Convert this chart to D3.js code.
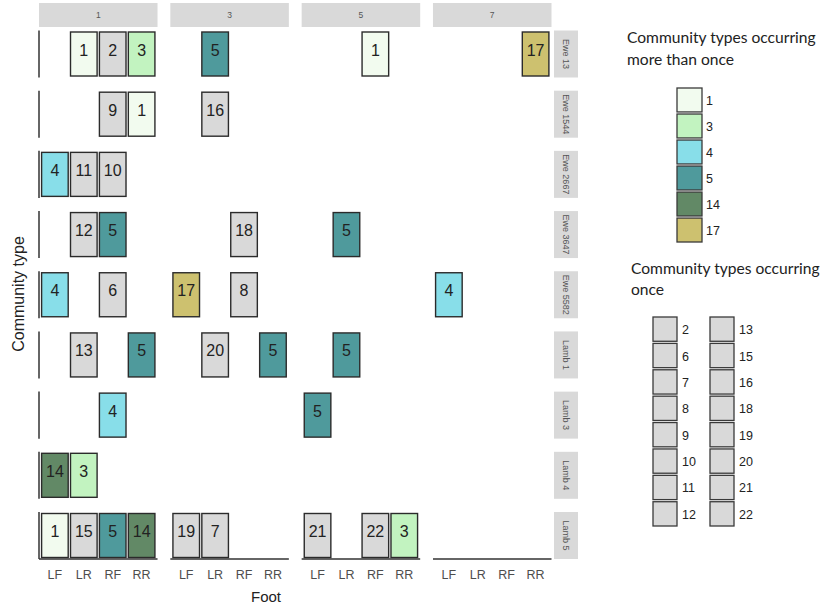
<!DOCTYPE html>
<html>
<head>
<meta charset="utf-8">
<script src="https://cdn.jsdelivr.net/npm/d3@7"></script>
<style>
  body { margin: 0; background: #fff; }
  svg { display: block; }
</style>
</head>
<body>
<div id="chart"></div>
<script>
// Facet columns (top strips), facet rows (right strips), feet on x
const columns = ['1', '3', '5', '7'];
const animals = ['Ewe 13', 'Ewe 1544', 'Ewe 2667', 'Ewe 3647', 'Ewe 5582',
                 'Lamb 1', 'Lamb 3', 'Lamb 4', 'Lamb 5'];
const feet = ['LF', 'LR', 'RF', 'RR'];

// Community types occurring more than once, with their fills
const multiTypes = ['1', '3', '4', '5', '14', '17'];
const multiColors = ['#f2fbef', '#c2f3c0', '#88dee9', '#4f9a9c', '#628966', '#cdc16f'];

// Community types occurring once (all grey)
const onceTypes = ['2', '6', '7', '8', '9', '10', '11', '12',
                   '13', '15', '16', '18', '19', '20', '21', '22'];
const onceColor = '#d9d9d9';

// Observations: [animal, column, foot, community type]
const tiles = [
  ['Ewe 13', '1', 'LR', '1'], ['Ewe 13', '1', 'RF', '2'], ['Ewe 13', '1', 'RR', '3'],
  ['Ewe 13', '3', 'LR', '5'], ['Ewe 13', '5', 'RF', '1'], ['Ewe 13', '7', 'RR', '17'],
  ['Ewe 1544', '1', 'RF', '9'], ['Ewe 1544', '1', 'RR', '1'], ['Ewe 1544', '3', 'LR', '16'],
  ['Ewe 2667', '1', 'LF', '4'], ['Ewe 2667', '1', 'LR', '11'], ['Ewe 2667', '1', 'RF', '10'],
  ['Ewe 3647', '1', 'LR', '12'], ['Ewe 3647', '1', 'RF', '5'], ['Ewe 3647', '3', 'RF', '18'],
  ['Ewe 3647', '5', 'LR', '5'],
  ['Ewe 5582', '1', 'LF', '4'], ['Ewe 5582', '1', 'RF', '6'], ['Ewe 5582', '3', 'LF', '17'],
  ['Ewe 5582', '3', 'RF', '8'], ['Ewe 5582', '7', 'LF', '4'],
  ['Lamb 1', '1', 'LR', '13'], ['Lamb 1', '1', 'RR', '5'], ['Lamb 1', '3', 'LR', '20'],
  ['Lamb 1', '3', 'RR', '5'], ['Lamb 1', '5', 'LR', '5'],
  ['Lamb 3', '1', 'RF', '4'], ['Lamb 3', '5', 'LF', '5'],
  ['Lamb 4', '1', 'LF', '14'], ['Lamb 4', '1', 'LR', '3'],
  ['Lamb 5', '1', 'LF', '1'], ['Lamb 5', '1', 'LR', '15'], ['Lamb 5', '1', 'RF', '5'],
  ['Lamb 5', '1', 'RR', '14'], ['Lamb 5', '3', 'LF', '19'], ['Lamb 5', '3', 'LR', '7'],
  ['Lamb 5', '5', 'LF', '21'], ['Lamb 5', '5', 'RF', '22'], ['Lamb 5', '5', 'RR', '3']
];

const width = 829, height = 616;
const svg = d3.select('#chart').append('svg')
  .attr('width', width)
  .attr('height', height);

const bodyFont = '"Liberation Sans", Arial, sans-serif';
const legendFont = 'Lato, "Open Sans", sans-serif';

// Facet layout scales
const colX = d3.scaleBand().domain(columns).range([39, 551.5]).paddingInner(0.0975);
const rowY = d3.scaleBand().domain(animals).range([30.5, 559]).paddingInner(0.219);
const footX = d3.scalePoint().domain(feet).range([0, colX.bandwidth()]).padding(0.55);
const fill = d3.scaleOrdinal()
  .domain(multiTypes.concat(onceTypes))
  .range(multiColors.concat(onceTypes.map(() => onceColor)));

const tileW = footX.step() * 0.92;

// Top strips
columns.forEach(c => {
  svg.append('rect')
    .attr('x', colX(c)).attr('y', 3)
    .attr('width', colX.bandwidth()).attr('height', 24)
    .attr('fill', '#d9d9d9');
  svg.append('text')
    .attr('x', colX(c) + colX.bandwidth() / 2).attr('y', 15)
    .attr('text-anchor', 'middle').attr('dominant-baseline', 'central')
    .style('font-family', bodyFont).style('font-size', '8.5px').style('fill', '#555')
    .text(c);
});

// Right strips
animals.forEach(a => {
  const y0 = rowY(a);
  svg.append('rect')
    .attr('x', 554).attr('y', y0)
    .attr('width', 24).attr('height', rowY.bandwidth())
    .attr('fill', '#d9d9d9');
  svg.append('text')
    .attr('transform', `translate(566,${y0 + rowY.bandwidth() / 2}) rotate(90)`)
    .attr('text-anchor', 'middle').attr('dominant-baseline', 'central')
    .style('font-family', bodyFont).style('font-size', '9px').style('fill', '#555')
    .text(a);
});

// Left axis lines on first column, bottom axis lines on last row
animals.forEach(a => {
  svg.append('line')
    .attr('x1', colX(columns[0])).attr('x2', colX(columns[0]))
    .attr('y1', rowY(a)).attr('y2', rowY(a) + rowY.bandwidth())
    .attr('stroke', '#333').attr('stroke-width', 1.5);
});
const lastRow = animals[animals.length - 1];
columns.forEach(c => {
  const yb = rowY(lastRow) + rowY.bandwidth();
  svg.append('line')
    .attr('x1', colX(c)).attr('x2', colX(c) + colX.bandwidth())
    .attr('y1', yb).attr('y2', yb)
    .attr('stroke', '#333').attr('stroke-width', 1.5);
  feet.forEach(f => {
    svg.append('text')
      .attr('x', colX(c) + footX(f)).attr('y', yb + 16)
      .attr('text-anchor', 'middle').attr('dominant-baseline', 'central')
      .style('font-family', bodyFont).style('font-size', '12.5px').style('fill', '#4d4d4d')
      .text(f);
  });
});

// Tiles
const g = svg.append('g');
const cell = g.selectAll('g.tile')
  .data(tiles)
  .enter().append('g')
    .attr('class', 'tile')
    .attr('transform', d => `translate(${colX(d[1]) + footX(d[2])},${rowY(d[0])})`);

cell.append('rect')
  .attr('x', -tileW / 2).attr('y', 1.5)
  .attr('width', tileW).attr('height', rowY.bandwidth() - 3)
  .attr('fill', d => fill(d[3]))
  .attr('stroke', '#2b2b2b').attr('stroke-width', 1.4);

cell.append('text')
  .attr('x', 0).attr('y', rowY.bandwidth() / 2 - 4)
  .attr('text-anchor', 'middle').attr('dominant-baseline', 'central')
  .style('font-family', bodyFont).style('font-size', '16px').style('fill', '#222')
  .text(d => d[3]);

// Axis titles
svg.append('text')
  .attr('x', 266).attr('y', 596)
  .attr('text-anchor', 'middle').attr('dominant-baseline', 'central')
  .style('font-family', bodyFont).style('font-size', '15px').style('fill', '#222')
  .text('Foot');
svg.append('text')
  .attr('transform', 'translate(18,294) rotate(-90)')
  .attr('text-anchor', 'middle').attr('dominant-baseline', 'central')
  .style('font-family', bodyFont).style('font-size', '16px').style('fill', '#222')
  .text('Community type');

// Legend: more than once
const leg1 = svg.append('g');
['Community types occurring', 'more than once'].forEach((t, i) => {
  leg1.append('text')
    .attr('x', 627).attr('y', 37 + i * 22)
    .attr('dominant-baseline', 'central')
    .style('font-family', legendFont).style('font-size', '15.6px').style('fill', '#222')
    .text(t);
});
const legY1 = d3.scaleBand().domain(multiTypes).range([88, 242]).paddingInner(0.08);
multiTypes.forEach(t => {
  leg1.append('rect')
    .attr('x', 677).attr('y', legY1(t))
    .attr('width', 25).attr('height', legY1.bandwidth())
    .attr('fill', fill(t)).attr('stroke', '#3a3a3a').attr('stroke-width', 1.3);
  leg1.append('text')
    .attr('x', 706).attr('y', legY1(t) + legY1.bandwidth() / 2 + 1)
    .attr('dominant-baseline', 'central')
    .style('font-family', bodyFont).style('font-size', '12.5px').style('fill', '#222')
    .text(t);
});

// Legend: once
const leg2 = svg.append('g');
['Community types occurring', 'once'].forEach((t, i) => {
  leg2.append('text')
    .attr('x', 631).attr('y', 268 + i * 21)
    .attr('dominant-baseline', 'central')
    .style('font-family', legendFont).style('font-size', '15.6px').style('fill', '#222')
    .text(t);
});
const half = onceTypes.length / 2;
const legY2 = d3.scaleBand().domain(d3.range(half)).range([317, 526]).paddingInner(0.08);
const legX2 = [653, 710];
onceTypes.forEach((t, i) => {
  const colI = Math.floor(i / half), rowI = i % half;
  leg2.append('rect')
    .attr('x', legX2[colI]).attr('y', legY2(rowI))
    .attr('width', 24).attr('height', legY2.bandwidth())
    .attr('fill', onceColor).attr('stroke', '#3a3a3a').attr('stroke-width', 1.3);
  leg2.append('text')
    .attr('x', legX2[colI] + 29).attr('y', legY2(rowI) + legY2.bandwidth() / 2 + 1)
    .attr('dominant-baseline', 'central')
    .style('font-family', bodyFont).style('font-size', '12.5px').style('fill', '#222')
    .text(t);
});
</script>
</body>
</html>
